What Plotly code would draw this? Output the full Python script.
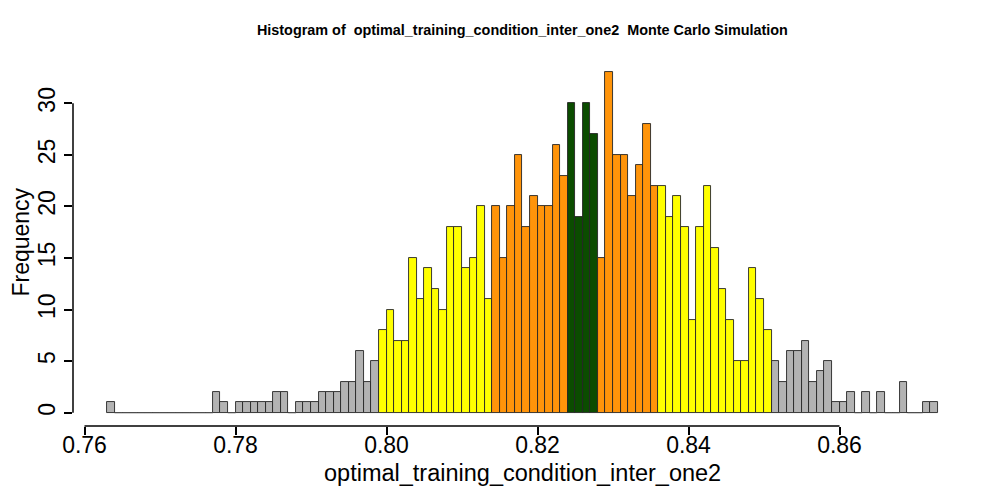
import plotly.graph_objects as go

# histogram bins (width 0.001), first bin starts at 0.763
bin_start = 0.763
bin_width = 0.001
counts = [1, 0, 0, 0, 0, 0, 0, 0, 0, 0, 0, 0, 0, 0, 2, 1, 0, 1, 1, 1,
          1, 1, 2, 2, 0, 1, 1, 1, 2, 2, 2, 3, 3, 6, 3, 5, 8, 10, 7, 7,
          15, 11, 14, 12, 10, 18, 18, 14, 15, 20, 11, 20, 15, 20, 25, 18, 21, 20, 20, 26,
          23, 30, 19, 30, 27, 15, 33, 25, 25, 21, 24, 28, 22, 22, 19, 21, 18, 9, 18, 22,
          16, 12, 9, 5, 5, 14, 11, 8, 5, 3, 6, 6, 7, 3, 4, 5, 1, 1, 2, 0,
          2, 0, 2, 0, 0, 3, 0, 0, 1, 1]

# colour bands: lower edge of each band and its fill
band_edges = [0.0, 0.799, 0.814, 0.824, 0.828, 0.836, 0.851]
band_colors = ['#b3b3b3', '#ffff00', '#ff940a', '#0b4c00', '#ff940a', '#ffff00', '#b3b3b3']

x_ticks = [0.76, 0.78, 0.80, 0.82, 0.84, 0.86]
y_ticks = [0, 5, 10, 15, 20, 25, 30]

title = "Histogram of  optimal_training_condition_inter_one2  Monte Carlo Simulation"
x_title = "optimal_training_condition_inter_one2"
y_title = "Frequency"

lefts = [round(bin_start + i * bin_width, 4) for i in range(len(counts))]
centers = [l + bin_width / 2 for l in lefts]


def band_color(x):
    c = band_colors[0]
    for edge, col in zip(band_edges, band_colors):
        if x >= edge - 1e-9:
            c = col
    return c


colors = [band_color(l) for l in lefts]

# zero-height bins are drawn as a flat outline, as R does
zx, zy = [], []
for l, c in zip(lefts, counts):
    if c == 0:
        zx += [l, l + bin_width, None]
        zy += [0, 0, None]

fig = go.Figure()
fig.add_trace(go.Bar(
    x=centers, y=counts, width=bin_width,
    marker=dict(color=colors, line=dict(color='#262626', width=0.9)),
    showlegend=False, hoverinfo='x+y'
))
fig.add_trace(go.Scatter(
    x=zx, y=zy, mode='lines', line=dict(color='#555555', width=1),
    showlegend=False, hoverinfo='skip'
))

font = "Liberation Sans, Arial, Helvetica, sans-serif"
px_per_x = 7550.0
x_lo = x_ticks[0] - 11.5 / px_per_x
x_hi = x_lo + 872 / px_per_x
x_mid = (lefts[0] + lefts[-1] + bin_width) / 2
title_x = (x_mid - x_lo) / (x_hi - x_lo)

# page body has an 8px margin, so the figure is 992x492
fig.update_layout(
    width=992, height=492,
    margin=dict(l=65, r=55, t=52, b=74),
    paper_bgcolor='white', plot_bgcolor='white',
    font=dict(family=font, color='black', size=23),
    bargap=0,
    title=dict(text="<b>" + title + "</b>", x=title_x, xref='paper', xanchor='center',
               y=1 - 22 / 492, yref='container', yanchor='middle', font=dict(size=14.4)),
    xaxis=dict(range=[x_lo, x_hi], tickvals=x_ticks, ticktext=['%.2f' % v for v in x_ticks],
               ticks='outside', ticklen=8, tickwidth=1.5, tickcolor='black',
               ticklabelstandoff=-10, automargin=False,
               showgrid=False, zeroline=False, showline=False, tickfont=dict(size=23)),
    yaxis=dict(range=[-1.29, 34.2], tickvals=y_ticks, tickangle=-90,
               ticks='outside', ticklen=8, tickwidth=1.5, tickcolor='black',
               ticklabelstandoff=0, automargin=False,
               showgrid=False, zeroline=False, showline=False, tickfont=dict(size=23)),
    shapes=[
        dict(type='line', xref='x', yref='paper', x0=x_ticks[0], x1=x_ticks[-1], y0=0, y1=0,
             line=dict(color='black', width=1.5)),
        dict(type='line', xref='paper', yref='y', x0=0, x1=0, y0=y_ticks[0], y1=y_ticks[-1],
             line=dict(color='black', width=1.5)),
    ],
    annotations=[
        dict(text=x_title, xref='x', yref='paper', x=x_mid, y=-0.1284,
             xanchor='center', yanchor='middle', showarrow=False, font=dict(size=23.5)),
        dict(text=y_title, xref='paper', yref='y', x=-0.0596, y=16.5, textangle=-90,
             xanchor='center', yanchor='middle', showarrow=False, font=dict(size=23)),
    ],
)

fig.write_html("out.html")
